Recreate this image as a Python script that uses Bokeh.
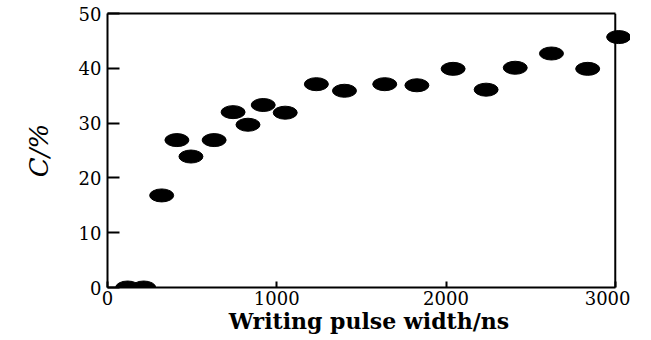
from bokeh.plotting import figure
from bokeh.models import Range1d, FixedTicker, LinearAxis, Span
from bokeh.embed import file_html
from bokeh.resources import INLINE

# data
pulse_width_ns = [119, 214, 320, 410, 493, 630, 742, 830, 920, 1050, 1234,
                  1400, 1638, 1828, 2042, 2237, 2409, 2623, 2837, 3020]
c_percent = [0.0, 0.0, 16.8, 26.9, 23.9, 26.9, 32.0, 29.7, 33.3, 31.9, 37.1,
             35.9, 37.1, 36.9, 39.9, 36.1, 40.1, 42.7, 39.9, 45.7]
x_ticks = [0, 1000, 2000, 3000]
y_ticks = [0, 10, 20, 30, 40, 50]

FONT = "DejaVu Serif"
X_END = 3000
X_VIEW_END = 3090

p = figure(width=630, height=336, output_backend="svg", toolbar_location=None,
           x_range=Range1d(0, X_VIEW_END), y_range=Range1d(0, 50),
           min_border_left=107, min_border_right=0, min_border_top=13, min_border_bottom=47)
p.background_fill_color = "white"
p.border_fill_color = "white"
p.outline_line_color = None
p.xgrid.visible = False
p.ygrid.visible = False

bottom = p.below[0]
left = p.left[0]

p.ellipse(x=pulse_width_ns, y=c_percent, width=24, height=13,
          width_units="screen", height_units="screen",
          fill_color="black", line_color="black")

for ax in (bottom, left):
    ax.axis_line_color = "black"
    ax.axis_line_width = 2
    ax.major_tick_line_color = "black"
    ax.major_tick_line_width = 2
    ax.major_tick_out = 0
    ax.minor_tick_line_color = None
    ax.major_label_text_font = FONT
    ax.major_label_text_font_size = "18px"
    ax.major_label_text_color = "black"
    ax.axis_label_text_font = FONT
    ax.axis_label_text_color = "black"

bottom.bounds = (0, X_END)
bottom.ticker = FixedTicker(ticks=x_ticks)
left.ticker = FixedTicker(ticks=y_ticks)
bottom.major_tick_in = 6
left.major_tick_in = 12
bottom.major_label_standoff = 3
left.major_label_standoff = 6

bottom.axis_label = "Writing pulse width/ns"
bottom.axis_label_text_font_size = "22px"
bottom.axis_label_text_font_style = "bold"
bottom.axis_label_standoff = 0

left.axis_label = "C/%"
left.axis_label_text_font_size = "26px"
left.axis_label_text_font_style = "italic"
left.axis_label_standoff = 22

# top and right frame lines stopping at x = 3000
top = LinearAxis(bounds=(0, X_END), ticker=FixedTicker(ticks=[]),
                 major_tick_line_color=None, minor_tick_line_color=None,
                 major_label_text_font_size="0px", major_label_standoff=0,
                 axis_line_width=2, axis_line_color="black")
p.add_layout(top, "above")
p.add_layout(Span(location=X_END, dimension="height", line_color="black", line_width=2))

open("out.html", "w").write(file_html(p, INLINE))
